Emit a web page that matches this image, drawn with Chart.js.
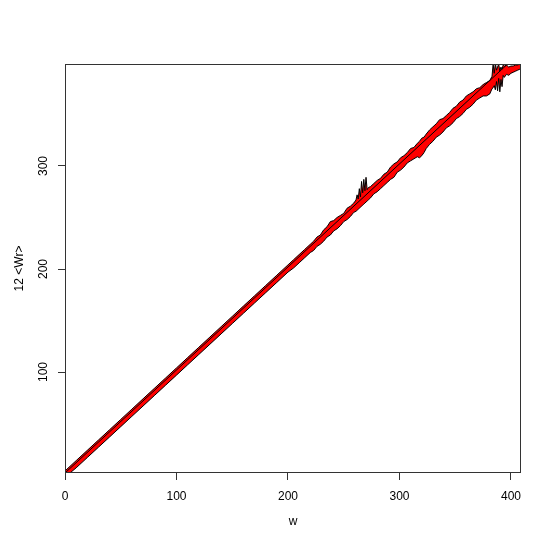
<!DOCTYPE html>
<html>
<head>
<meta charset="utf-8">
<script src="https://cdn.jsdelivr.net/npm/chart.js@4"></script>
<style>
  html, body { margin: 0; padding: 0; background: #fff; }
  #wrap { width: 554px; height: 554px; }
</style>
</head>
<body>
<div id="wrap"><canvas id="chart" width="554" height="554"></canvas></div>
<script>
// w values and lower / upper edge of the band
const wVals = [0, 10, 20, 30, 40, 50, 60, 70, 80, 90, 100, 110, 120, 130, 140, 150, 160, 170, 180, 190, 200,
  205, 210, 215, 220, 223, 226, 229, 232, 235, 238, 241, 244, 247, 250, 253, 256, 259, 261, 262, 263, 264, 265,
  266, 267, 268, 269, 270, 271, 272, 274, 277, 280, 283, 286, 289, 292, 295, 298, 301, 304, 307, 310, 313, 316,
  318, 320, 322, 324, 327, 330, 333, 336, 339, 342, 345, 348, 351, 354, 357, 360, 363, 366, 369, 372, 375, 378,
  381, 383, 384, 385, 386, 387, 388, 389, 390, 391, 392, 393, 394, 396, 398, 400, 402, 404, 406, 408, 409];
const lowVals = [-2, 7, 17, 27, 37, 47, 57, 67, 77, 87, 97, 107, 117, 127, 137, 147, 157, 167, 177, 187, 197,
  201, 206, 211, 216, 218, 222, 224, 227, 231, 233, 237, 239, 242, 246, 248, 251, 255, 256, 257, 258, 259, 260,
  261, 262, 263, 264, 265, 266, 267, 269, 273, 275, 278, 281, 284, 287, 289, 294, 296, 299, 303, 305, 307, 309,
  308, 310, 313, 317, 321, 324, 328, 330, 333, 337, 339, 342, 346, 348, 351, 355, 357, 360, 364, 366, 368, 368,
  370, 375, 376, 378, 374, 382, 373, 385, 372, 384, 377, 388, 386, 389, 388, 390, 391, 392, 393, 394, 395];
const highVals = [4, 14, 24, 34, 44, 54, 64, 74, 84, 94, 104, 114, 124, 134, 144, 154, 164, 174, 184, 194, 204,
  209, 214, 219, 224, 227, 231, 233, 238, 241, 246, 247, 250, 252, 254, 259, 261, 264, 267, 272, 268, 278, 270,
  285, 274, 287, 276, 289, 277, 279, 280, 283, 286, 288, 292, 294, 299, 302, 304, 308, 310, 313, 317, 318, 322,
  324, 327, 328, 331, 335, 338, 341, 345, 346, 349, 352, 356, 358, 362, 364, 368, 370, 372, 375, 376, 379, 381,
  383, 387, 399, 390, 400, 393, 396, 399, 392, 396, 394, 398, 397, 398, 396, 397, 397, 398, 398, 399, 399];
// straight reference line
const lineW = [0, 409];
const lineY = [2, 411];

const xTicks = [0, 100, 200, 300, 400];
const yTicks = [100, 200, 300];

const toPts = (xs, ys) => xs.map((x, i) => ({ x: x, y: ys[i] }));

const boxPlugin = {
  id: "box",
  afterDraw(chart) {
    const a = chart.chartArea;
    const ctx = chart.ctx;
    ctx.save();
    ctx.strokeStyle = "#333";
    ctx.lineWidth = 1;
    ctx.strokeRect(Math.round(a.left) + 0.5, Math.round(a.top) + 0.5, Math.round(a.right - a.left) - 1, Math.round(a.bottom - a.top) - 1);
    ctx.restore();
  }
};

const font = { family: "'Liberation Sans', Arial, Helvetica, sans-serif", size: 12 };

new Chart(document.getElementById("chart"), {
  type: "line",
  data: {
    datasets: [
      {
        label: "line",
        data: toPts(lineW, lineY),
        borderColor: "#000",
        borderWidth: 1,
        pointRadius: 0,
        fill: false
      },
      {
        label: "upper",
        data: toPts(wVals, highVals),
        borderColor: "#000",
        borderWidth: 1,
        backgroundColor: "#ff0000",
        pointRadius: 0,
        tension: 0,
        fill: "+1"
      },
      {
        label: "lower",
        data: toPts(wVals, lowVals),
        borderColor: "#000",
        borderWidth: 1,
        pointRadius: 0,
        tension: 0,
        fill: false
      }
    ]
  },
  options: {
    responsive: false,
    animation: false,
    layout: { padding: { top: 64, right: 33, left: 0, bottom: 0 } },
    plugins: {
      legend: { display: false },
      tooltip: { enabled: false },
      filler: { drawTime: "beforeDatasetsDraw" }
    },
    scales: {
      x: {
        type: "linear",
        min: 0,
        max: 409,
        afterBuildTicks: s => { s.ticks = xTicks.map(v => ({ value: v })); },
        afterFit: s => { s.height = 81; },
        grid: { drawOnChartArea: false, drawTicks: true, tickLength: 7, color: "#333" },
        border: { display: false },
        ticks: { color: "#000", font: font, padding: 9, maxRotation: 0 },
        title: { display: true, text: "w", color: "#000", font: font, padding: { top: 0, bottom: 25 } }
      },
      y: {
        type: "linear",
        min: 2,
        max: 399,
        afterBuildTicks: s => { s.ticks = yTicks.map(v => ({ value: v })); },
        afterFit: s => { s.width = 65; },
        grid: { drawOnChartArea: false, drawTicks: true, tickLength: 7, color: "#333" },
        border: { display: false },
        ticks: { color: "#000", font: font, padding: 4, minRotation: 90, maxRotation: 90, crossAlign: "center" },
        title: { display: true, text: "12 <Wr>", color: "#000", font: font, padding: { top: 12, bottom: 0 } }
      }
    }
  },
  plugins: [boxPlugin]
});
</script>
</body>
</html>
